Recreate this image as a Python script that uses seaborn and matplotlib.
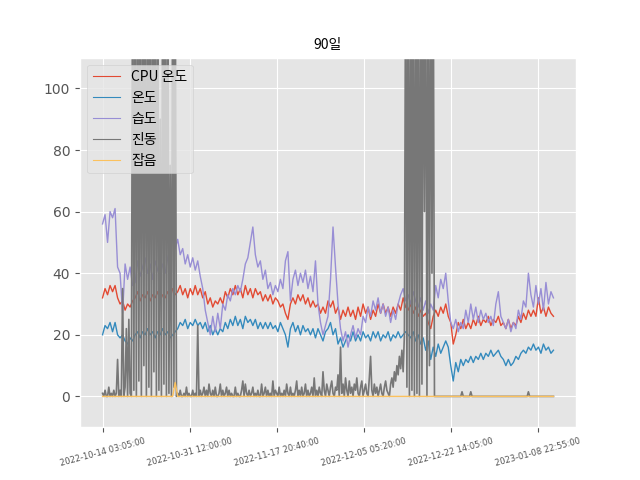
import pandas as pd
import matplotlib
matplotlib.use('Agg')
import matplotlib.pyplot as plt
import seaborn as sns

# ---------------
# data
# ---------------
start_time = '2022-10-14 03:05'

labels = ['CPU 온도', '온도', '습도', '진동', '잡음']

# 12 hour samples
cpu_temp = [32, 35, 33, 36, 34, 36, 32, 30, 31, 28,
            30, 29, 31, 32, 34, 31, 33, 32, 34, 31,
            33, 32, 34, 31, 33, 32, 34, 32, 35, 33,
            34, 36, 33, 35, 32, 35, 33, 36, 33, 35,
            32, 34, 30, 32, 29, 31, 30, 32, 30, 34,
            32, 35, 33, 36, 33, 35, 32, 36, 33, 35,
            32, 35, 33, 34, 31, 33, 31, 33, 30, 32,
            31, 29, 30, 27, 25, 30, 32, 30, 33, 31,
            33, 30, 32, 29, 31, 29, 30, 27, 29, 27,
            31, 29, 31, 27, 29, 25, 28, 26, 29, 26,
            28, 25, 29, 26, 30, 27, 29, 25, 28, 26,
            30, 27, 30, 27, 29, 26, 29, 27, 30, 28,
            32, 29, 28, 30, 27, 29, 26, 28, 26, 27,
            24, 22, 26, 28, 26, 29, 27, 30, 26, 24,
            17, 20, 24, 22, 25, 22, 24, 22, 25, 23,
            26, 23, 25, 24, 26, 23, 25, 24, 26, 23,
            24, 22, 25, 22, 24, 23, 26, 24, 27, 25,
            28, 26, 28, 26, 32, 27, 29, 26, 29, 27,
            26]

temp = [20, 23, 22, 24, 21, 24, 20, 19, 20, 18,
        17, 19, 18, 20, 21, 19, 21, 20, 22, 20,
        21, 19, 21, 20, 22, 20, 21, 19, 20, 21,
        22, 24, 23, 25, 22, 24, 23, 25, 23, 24,
        22, 24, 21, 23, 20, 22, 20, 22, 21, 24,
        22, 25, 23, 26, 23, 25, 22, 26, 24, 25,
        23, 25, 22, 24, 22, 24, 22, 24, 22, 23,
        21, 24, 22, 20, 16, 22, 24, 21, 23, 20,
        23, 21, 22, 20, 22, 19, 22, 20, 18, 21,
        22, 24, 20, 22, 17, 19, 16, 18, 20, 18,
        21, 18, 20, 18, 21, 19, 20, 18, 21, 19,
        21, 18, 20, 19, 21, 18, 20, 19, 21, 19,
        20, 21, 20, 19, 21, 18, 20, 17, 19, 15,
        18, 12, 16, 13, 17, 14, 16, 18, 16, 10,
        5, 11, 8, 12, 10, 12, 11, 13, 11, 13,
        12, 14, 12, 14, 13, 15, 13, 14, 15, 13,
        12, 10, 12, 10, 11, 13, 12, 14, 15, 14,
        16, 15, 17, 15, 16, 14, 17, 15, 16, 14,
        15]

humidity = [56, 59, 50, 60, 58, 61, 42, 40, 27, 43,
            38, 42, 36, 37, 44, 39, 42, 45, 40, 43,
            38, 44, 41, 39, 43, 40, 45, 48, 52, 48,
            51, 46, 48, 43, 46, 42, 45, 41, 44, 39,
            35, 28, 24, 20, 26, 21, 27, 22, 30, 28,
            33, 31, 35, 33, 36, 34, 38, 43, 45, 50,
            55, 46, 42, 44, 38, 41, 35, 37, 33, 36,
            34, 38, 35, 44, 47, 31, 38, 41, 36, 40,
            37, 41, 35, 39, 34, 44, 30, 24, 20, 23,
            26, 38, 55, 42, 30, 22, 18, 21, 16, 20,
            23, 19, 22, 20, 26, 24, 29, 26, 31, 28,
            32, 27, 30, 26, 29, 24, 28, 25, 30, 33,
            35, 31, 33, 30, 34, 31, 29, 32, 28, 31,
            27, 30, 28, 36, 32, 38, 35, 40, 31, 24,
            22, 25, 21, 24, 22, 28, 24, 30, 25, 29,
            24, 28, 25, 27, 24, 26, 23, 30, 34, 26,
            24, 22, 25, 21, 24, 22, 28, 25, 31, 29,
            40, 33, 29, 36, 30, 35, 28, 37, 30, 34,
            32]

noise = [0, 0, 0, 0, 0, 0, 0, 0, 0, 0,
         0, 0, 0, 0, 0, 0, 0, 0, 0, 0,
         0, 0, 0, 0, 0, 0, 0, 0, 0, 4.5,
         0, 0, 0, 0, 0, 0, 0, 0, 0, 0,
         0, 0, 0, 0, 0, 0, 0, 0, 0, 0,
         0, 0, 0, 0, 0, 0, 0, 0, 0, 0,
         0, 0, 0, 0, 0, 0, 0, 0, 0, 0,
         0, 0, 0, 0, 0, 0, 0, 0, 0, 0,
         0, 0, 0, 0, 0, 0, 0, 0, 0, 0,
         0, 0, 0, 0, 0, 0, 0, 0, 0, 0,
         0, 0, 0, 0, 0, 0, 0, 0, 0, 0,
         0, 0, 0, 0, 0, 0, 0, 0, 0, 0,
         0, 0, 0, 0, 0, 0, 0, 0, 0, 0,
         0, 0, 0, 0, 0, 0, 0, 0, 0, 0,
         0, 0, 0, 0, 0, 0, 0, 0, 0, 0,
         0, 0, 0, 0, 0, 0, 0, 0, 0, 0,
         0, 0, 0, 0, 0, 0, 0, 0, 0, 0,
         0, 0, 0, 0, 0, 0, 0, 0, 0, 0,
         0]

# 6 hour samples (vibration bursts go far off scale)
vibration = [1, 0, 2, 0, 0, 3, 0, 1, 0, 2, 0, 1, 12, 0, 2, 0, 35, 0, 3, 22,
             0, 25, 1, 0, 150, 2, 150, 0, 150, 5, 150, 0, 150, 10, 150, 0, 150, 3, 150, 0,
             150, 8, 150, 0, 150, 2, 90, 0, 150, 4, 150, 0, 150, 1, 75, 0, 150, 3, 150, 0,
             1, 0, 2, 0, 0, 1, 0, 3, 0, 1, 0, 0, 2, 0, 1, 0, 23, 0, 2, 0,
             1, 3, 0, 2, 0, 4, 1, 0, 2, 0, 3, 0, 0, 1, 4, 0, 2, 0, 1, 3,
             0, 2, 0, 1, 0, 0, 3, 0, 1, 0, 0, 2, 5, 0, 4, 1, 0, 2, 0, 1,
             3, 0, 1, 0, 2, 0, 0, 4, 0, 1, 3, 0, 2, 0, 1, 0, 5, 0, 2, 1,
             0, 3, 0, 1, 0, 2, 0, 4, 1, 0, 3, 0, 1, 0, 2, 5, 0, 2, 0, 3,
             0, 1, 4, 0, 2, 0, 1, 3, 0, 6, 0, 2, 0, 3, 1, 0, 8, 2, 0, 4,
             2, 0, 3, 5, 1, 0, 3, 2, 7, 0, 16, 1, 4, 0, 6, 2, 0, 5, 1, 3,
             0, 4, 2, 6, 1, 0, 3, 5, 0, 2, 4, 1, 0, 6, 13, 2, 0, 4, 1, 3,
             0, 2, 4, 1, 0, 3, 5, 2, 1, 0, 4, 6, 3, 8, 5, 10, 7, 13, 9, 15,
             8, 20, 150, 3, 150, 0, 150, 2, 150, 0, 150, 1, 150, 0, 150, 4, 150, 60, 150, 0,
             150, 10, 150, 40, 150, 0, 0, 0, 0, 0, 0, 0, 0, 0, 0, 0, 0, 0, 0, 0,
             0, 0, 0, 0, 0, 0, 0, 1.5, 0, 0, 0, 0, 0, 0, 1.5, 0, 0, 0, 0, 0,
             0, 0, 0, 0, 0, 0, 0, 0, 0, 0, 0, 0, 0, 0, 0, 0, 0, 0, 0, 0,
             0, 0, 0, 0, 0, 0, 0, 0, 0, 0, 0, 0, 0, 0, 0, 0, 0, 0, 0, 0,
             1.5, 0, 0, 0, 0, 0, 0, 0, 0, 0, 0, 0, 0, 0, 0, 0, 0, 0, 0, 0,
             0]

tick_labels = ['2022-10-14 03:05:00', '2022-10-31 12:00:00', '2022-11-17 20:40:00',
               '2022-12-05 05:20:00', '2022-12-22 14:05:00', '2023-01-08 22:55:00']

# ---------------
# create plot
# ---------------
plt.style.use('ggplot')
kr_font = ['Noto Sans CJK KR', 'DejaVu Sans']

times = pd.date_range(start_time, periods=len(cpu_temp), freq='12h')
vib_times = pd.date_range(start_time, periods=len(vibration), freq='6h')

colors = plt.rcParams['axes.prop_cycle'].by_key()['color']
series = [(times, cpu_temp), (times, temp), (times, humidity),
          (vib_times, vibration), (times, noise)]
widths = [1.0, 1.0, 1.0, 1.2, 1.0]

f, ax = plt.subplots(figsize=(6.4, 4.8), dpi=100)

for (x, y), label, color, lw in zip(series, labels, colors, widths):
    sns.lineplot(x=x, y=y, ax=ax, color=color, linewidth=lw, label=label)

ax.set_ylim(-10, 110)
ax.set_xticks(pd.to_datetime(tick_labels), labels=tick_labels, rotation=15, fontsize=6)
ax.set_xlabel('')
ax.set_ylabel('')
ax.set_title('90일', family=kr_font, fontsize=10)
leg = ax.legend(loc='upper left', prop={'family': kr_font, 'size': 10})
for line in leg.get_lines():
    line.set_linewidth(0.8)

plt.savefig('out.png', dpi=100)
plt.close()
